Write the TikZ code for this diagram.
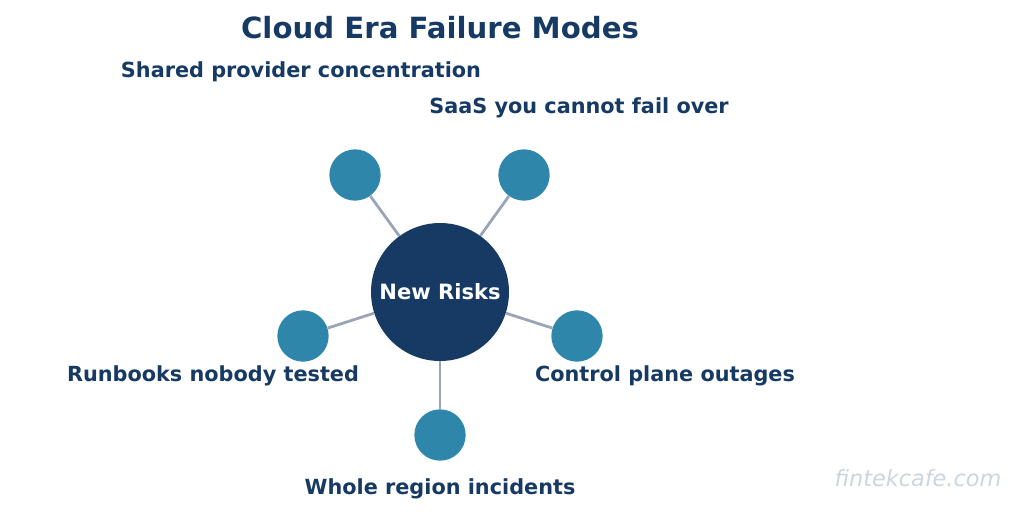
\documentclass[tikz,border=0pt]{standalone}
\usepackage{fontspec}
\setmainfont{DejaVu Sans}
\definecolor{navy}{HTML}{163A63}
\definecolor{teal}{HTML}{2E86AB}
\definecolor{spoke}{HTML}{9AA5B8}
\definecolor{mark}{HTML}{CCD5DF}
\begin{document}
\begin{tikzpicture}[x=0.75pt,y=-0.75pt,
  hub/.style={circle,fill=navy,minimum size=103.5pt,inner sep=0pt,text=white,
              font=\fontsize{15.8}{18}\selectfont\bfseries},
  leaf/.style={circle,fill=teal,minimum size=38.5pt,inner sep=0pt},
  lbl/.style={text=navy,font=\fontsize{15.6}{18}\selectfont\bfseries,inner sep=0pt},
  spokeline/.style={spoke,line width=2.1pt}]
  \useasboundingbox (0,0) rectangle (1019,519);
  \node[text=navy,font=\fontsize{21.9}{26}\selectfont\bfseries] (title) at (440,28) {Cloud Era Failure Modes};
  % hub and the five risks around it
  \node[hub] (hub) at (440,292) {New Risks};
  \node[leaf] (l1) at (355,175) {};
  \node[leaf] (l2) at (524,175) {};
  \node[leaf] (l3) at (577,336) {};
  \node[leaf] (l4) at (440,435) {};
  \node[leaf] (l5) at (303,336) {};
  \foreach \i in {1,...,5}
    \draw[spokeline] (hub) -- (l\i);
  \node[lbl] (t1) at (301,72) {Shared provider concentration};
  \node[lbl] (t2) at (579,108) {SaaS you cannot fail over};
  \node[lbl] (t3) at (665,376) {Control plane outages};
  \node[lbl] (t4) at (440,489) {Whole region incidents};
  \node[lbl] (t5) at (213,376) {Runbooks nobody tested};
  \node[text=mark,font=\fontsize{16.8}{20}\selectfont\itshape] (wm) at (918,478) {fintekcafe.com};
\end{tikzpicture}
\end{document}
